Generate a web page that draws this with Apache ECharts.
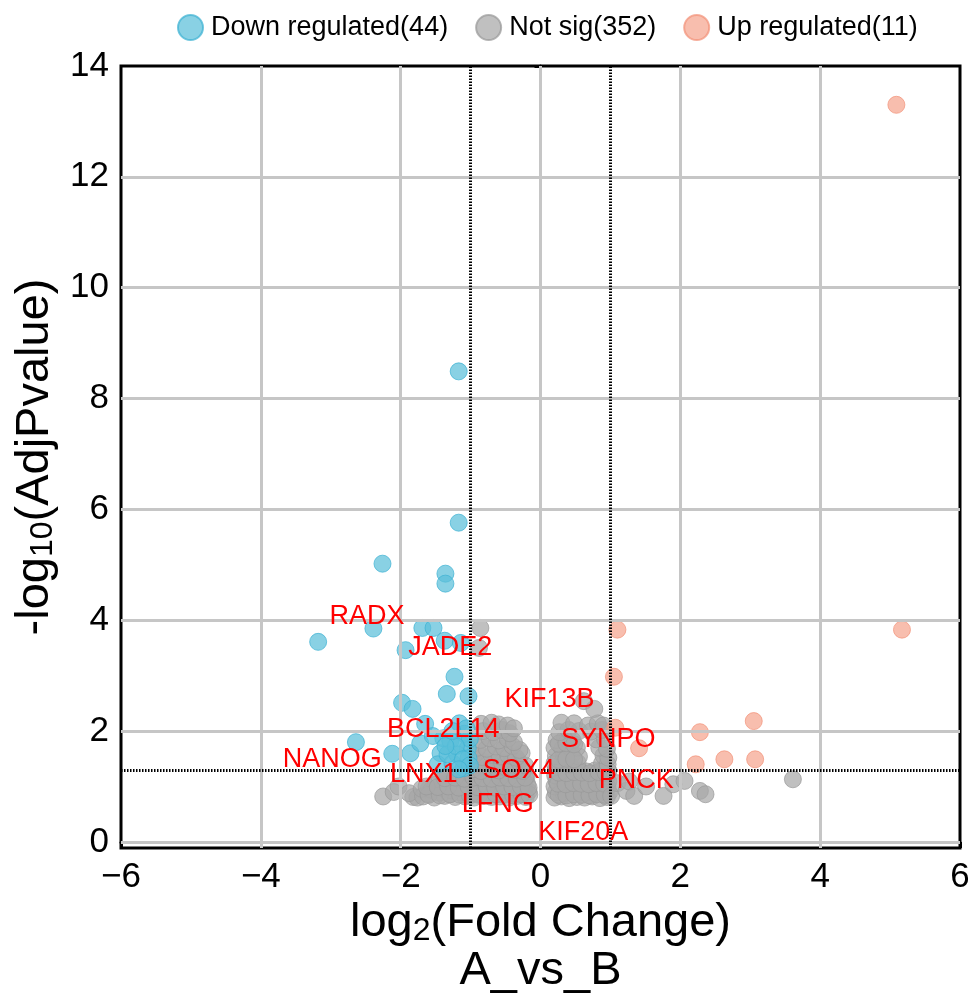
<!DOCTYPE html>
<html>
<head>
<meta charset="utf-8">
<title>Volcano plot</title>
<script src="https://cdn.jsdelivr.net/npm/echarts@6/dist/echarts.min.js"></script>
<style>
html, body { margin: 0; padding: 0; background: #fff; }
#chart { width: 968px; height: 997px; }
</style>
</head>
<body>
<div id="chart"></div>
<script>
// log2FC, -log10(adj p)
var downPoints = [
  [-1.17,8.49],[-1.17,5.76],[-2.26,5.02],[-1.36,4.84],[-1.36,4.66],[-2.39,3.85],[-3.18,3.61],
  [-1.69,3.86],[-1.53,3.86],[-1.93,3.46],[-1.37,3.63],[-1.14,3.59],[-1.23,2.98],[-1.34,2.67],
  [-1.03,2.63],[-1.98,2.51],[-1.83,2.40],[-2.64,1.80],[-2.12,1.59],[-1.86,1.60],[-1.72,1.78],
  [-1.65,2.13],[-1.43,1.60],[-1.47,1.40],[-1.26,1.42],[-1.16,2.14],[-1.39,1.87],[-1.54,1.91],
  [-1.29,1.82],[-1.14,1.76],[-1.04,1.69],[-1.19,1.58],[-1.03,1.51],[-1.10,1.33],[-1.33,1.58],
  [-1.09,1.95],[-1.01,1.86],[-1.21,1.73],[-1.11,1.49],[-1.01,1.38],[-1.17,1.31],[-1.36,1.73],
  [-1.06,2.05],[-1.26,2.00]
];
var notSigPoints = [
  [-0.86,3.86],[-0.88,3.50],
  [-2.25,0.82],[-2.10,0.90],[-2.03,1.00],[-1.82,0.81],[-1.76,0.80],[-1.60,0.95],[-1.88,0.88],
  [-1.68,0.82],[-1.52,0.80],[-1.37,0.83],[-1.22,0.81],[-1.08,0.82],[-0.95,0.80],[-0.81,0.83],[-0.70,0.81],[-0.58,0.82],[-0.45,0.80],[-0.33,0.83],[-0.21,0.81],
  [-1.61,0.87],[-1.45,0.89],[-1.30,0.86],[-1.16,0.90],[-1.01,0.88],[-0.88,0.87],[-0.75,0.90],[-0.63,0.86],[-0.50,0.89],[-0.38,0.88],[-0.26,0.87],[-0.17,0.91],
  [-1.70,0.96],[-1.56,0.94],[-1.40,0.97],[-1.27,0.93],[-1.12,0.96],[-0.97,0.95],[-0.84,0.98],[-0.72,0.94],[-0.60,0.96],[-0.47,0.93],[-0.35,0.97],[-0.23,0.95],
  [-1.50,1.03],[-1.35,1.05],[-1.20,1.02],[-1.06,1.04],[-0.92,1.01],[-0.79,1.06],[-0.66,1.03],[-0.54,1.00],[-0.42,1.05],[-0.30,1.02],[-0.19,1.04],
  [-1.44,1.12],[-1.29,1.10],[-1.14,1.13],[-1.00,1.10],[-0.86,1.12],[-0.73,1.09],[-0.60,1.13],[-0.48,1.10],[-0.36,1.12],[-0.25,1.11],
  [-1.33,1.19],[-1.18,1.21],[-1.05,1.18],[-0.93,1.22],[-0.80,1.19],[-0.67,1.21],[-0.55,1.18],[-0.42,1.22],[-0.31,1.20],[-0.20,1.17],
  [-1.60,0.85],[-1.44,0.84],[-1.29,0.86],[-1.15,0.85],[-1.01,0.84],[-0.88,0.85],[-0.76,0.84],[-0.64,0.86],[-0.52,0.85],[-0.39,0.84],[-0.27,0.86],[-0.16,0.85],
  [-1.63,1.00],[-1.47,0.99],[-1.32,1.00],[-1.17,0.98],[-1.03,1.00],[-0.90,0.99],[-0.77,1.00],[-0.65,0.98],[-0.52,1.00],[-0.40,0.99],[-0.28,1.00],[-0.17,0.98],
  [-1.37,1.15],[-1.22,1.16],[-1.09,1.14],[-0.96,1.16],[-0.83,1.15],[-0.70,1.14],[-0.58,1.16],[-0.46,1.15],[-0.34,1.14],[-0.22,1.16],
  [-0.97,1.31],[-0.85,1.28],[-0.72,1.32],[-0.60,1.29],[-0.48,1.33],[-0.36,1.30],[-0.25,1.28],
  [-0.93,1.42],[-0.80,1.44],[-0.68,1.40],[-0.55,1.43],[-0.43,1.41],[-0.31,1.45],[-0.22,1.38],
  [-0.95,1.56],[-0.83,1.53],[-0.70,1.57],[-0.58,1.54],[-0.46,1.56],[-0.35,1.52],[-0.27,1.60],
  [-0.90,1.70],[-0.77,1.68],[-0.64,1.72],[-0.52,1.69],[-0.40,1.73],[-0.30,1.66],
  [-0.86,1.84],[-0.73,1.87],[-0.60,1.83],[-0.47,1.86],[-0.38,1.80],
  [-0.82,2.00],[-0.68,1.98],[-0.55,2.02],[-0.44,1.96],
  [-0.85,2.13],[-0.70,2.15],[-0.60,2.12],[-0.47,2.10],[-0.38,2.05],
  [0.20,0.80],[0.30,0.82],[0.41,0.79],[0.52,0.81],[0.63,0.80],[0.74,0.82],[0.85,0.79],[0.95,0.81],
  [0.22,0.90],[0.33,0.88],[0.44,0.91],[0.55,0.89],[0.66,0.90],[0.77,0.88],[0.88,0.91],[0.98,0.89],
  [0.20,1.00],[0.31,0.98],[0.42,1.01],[0.53,0.99],[0.64,1.00],[0.75,0.98],[0.86,1.01],[0.96,0.99],
  [0.23,1.10],[0.34,1.08],[0.45,1.11],[0.56,1.09],[0.67,1.10],[0.78,1.08],[0.89,1.11],[0.97,1.09],
  [0.21,1.20],[0.32,1.18],[0.43,1.21],[0.54,1.19],[0.65,1.20],[0.76,1.18],[0.87,1.21],[0.95,1.19],
  [0.22,1.30],[0.33,1.28],[0.44,1.31],[0.55,1.29],[0.66,1.27],[0.78,1.29],[0.89,1.30],[0.97,1.28],
  [0.26,0.85],[0.37,0.84],[0.48,0.86],[0.59,0.85],[0.70,0.84],[0.81,0.86],[0.92,0.85],
  [0.25,1.05],[0.36,1.04],[0.47,1.06],[0.58,1.05],[0.69,1.04],[0.80,1.06],[0.91,1.05],
  [0.26,1.25],[0.37,1.24],[0.48,1.26],[0.59,1.25],[0.70,1.24],[0.83,1.26],[0.93,1.25],
  [0.20,1.42],[0.31,1.44],[0.42,1.40],[0.53,1.43],[0.88,1.42],[0.96,1.40],
  [0.22,1.55],[0.34,1.53],[0.45,1.57],[0.55,1.54],[0.90,1.56],[0.97,1.52],
  [0.20,1.70],[0.31,1.68],[0.42,1.72],[0.52,1.70],[0.84,1.70],[0.95,1.68],
  [0.23,1.84],[0.35,1.87],[0.46,1.83],[0.80,1.85],[0.92,1.86],
  [0.26,1.48],[0.37,1.50],[0.48,1.49],[0.26,1.77],[0.37,1.78],[0.48,1.76],
  [0.27,1.98],[0.40,2.02],[0.55,2.00],[0.72,1.99],[0.88,2.02],
  [0.30,2.15],[0.48,2.14],[0.68,2.10],[0.82,2.14],[0.90,2.10],
  [0.62,2.54],[0.77,2.40],
  [1.01,0.83],[1.10,1.06],[1.23,0.92],[1.27,1.09],[1.34,0.83],[1.51,1.00],[1.76,0.83],
  [1.90,1.04],[2.06,1.10],[2.28,0.92],[2.36,0.86],[3.61,1.13]
];
var upPoints = [
  [5.09,13.30],[5.17,3.83],[1.10,3.83],[1.05,2.98],[1.07,2.06],[1.41,1.69],
  [2.28,1.98],[3.05,2.18],[2.22,1.40],[2.63,1.49],[3.07,1.49]
];
var geneNames = ['RADX','JADE2','KIF13B','BCL2L14','SYNPO','NANOG','LNX1','SOX4','PNCK','LFNG','KIF20A'];
var geneLabelX = [-2.48,-1.29,0.13,-1.39,0.97,-2.98,-1.67,-0.31,1.37,-0.61,0.61];
var geneLabelY = [4.06,3.50,2.56,2.02,1.84,1.48,1.21,1.29,1.11,0.68,0.16];
var seriesNames = ['Down regulated(44)','Not sig(352)','Up regulated(11)'];
var xTicks = [-6,-4,-2,0,2,4,6];
var yTicks = [0,2,4,6,8,10,12,14];
var fcCut = 1;
var pCut = 1.301;

var font = 'Liberation Sans, Arial, Helvetica, sans-serif';
var myChart = echarts.init(document.getElementById('chart'));

var gridLines = [];
xTicks.slice(1, -1).forEach(function (v) { gridLines.push({ xAxis: v }); });
yTicks.slice(0, -1).forEach(function (v) { gridLines.push({ yAxis: v }); });

function minus(v) { return String(v).replace('-', '\u2212'); }

function pointSeries(name, data, color, border, z) {
  return {
    name: name,
    type: 'scatter',
    data: data,
    symbolSize: 17,
    z: z,
    itemStyle: { color: color, opacity: 0.72, borderColor: border, borderWidth: 1 },
    emphasis: { disabled: true }
  };
}

var titleRich = {
  t: { fontSize: 47, lineHeight: 48, color: '#000', fontFamily: font },
  s: { fontSize: 32, lineHeight: 22, verticalAlign: 'bottom', color: '#000', fontFamily: font }
};

var option = {
  animation: false,
  textStyle: { fontFamily: font },
  legend: {
    data: seriesNames,
    left: 172,
    top: 9,
    icon: 'circle',
    itemWidth: 25,
    itemHeight: 25,
    itemGap: 27,
    textStyle: { fontSize: 27, color: '#000', fontFamily: font, padding: [0, 0, 0, 3] }
  },
  grid: {
    left: 121, right: 8, top: 66, bottom: 149,
    show: true, borderColor: '#000', borderWidth: 3,
    outerBoundsMode: 'none'
  },
  xAxis: {
    type: 'value',
    min: -6, max: 6, interval: 2,
    splitLine: { show: false },
    axisLine: { lineStyle: { color: '#000', width: 3 } },
    axisTick: { length: 6, lineStyle: { color: '#000', width: 3 } },
    axisLabel: { fontSize: 35, color: '#000', margin: 12, formatter: minus, fontFamily: font },
    name: '{t|log}{s|2}{t|(Fold Change)}\n{t|A_vs_B}',
    nameLocation: 'middle',
    nameGap: 44,
    nameTextStyle: { rich: titleRich }
  },
  yAxis: {
    type: 'value',
    min: -0.11, max: 14,
    splitLine: { show: false },
    axisLine: { lineStyle: { color: '#000', width: 3 } },
    axisTick: { length: 6, customValues: yTicks, lineStyle: { color: '#000', width: 3 } },
    axisLabel: { fontSize: 35, color: '#000', margin: 12, customValues: yTicks, fontFamily: font },
    name: '{t|-log}{s|10}{t|(AdjPvalue)}',
    nameLocation: 'middle',
    nameGap: 58,
    nameTextStyle: { rich: titleRich }
  },
  series: [
    {
      type: 'scatter',
      data: [],
      z: 1,
      silent: true,
      markLine: {
        silent: true,
        symbol: ['none', 'none'],
        label: { show: false },
        lineStyle: { color: '#c6c6c6', width: 3, type: 'solid' },
        data: gridLines
      }
    },
    {
      type: 'scatter',
      data: [],
      z: 2,
      silent: true,
      markLine: {
        silent: true,
        symbol: ['none', 'none'],
        label: { show: false },
        lineStyle: { color: '#000', width: 3, type: [1.5, 1.5] },
        data: [{ xAxis: -fcCut }, { xAxis: fcCut }, { yAxis: pCut }]
      }
    },
    pointSeries(seriesNames[0], downPoints, '#5cbfd9', '#3db2d3', 4),
    pointSeries(seriesNames[1], notSigPoints, '#a8a8a8', '#9a9a9a', 3),
    pointSeries(seriesNames[2], upPoints, '#f5a58f', '#f29279', 4),
    {
      type: 'scatter',
      z: 6,
      silent: true,
      symbolSize: 1,
      itemStyle: { color: 'rgba(0,0,0,0)' },
      data: geneNames.map(function (g, i) { return { name: g, value: [geneLabelX[i], geneLabelY[i]] }; }),
      label: {
        show: true,
        position: 'inside',
        formatter: '{b}',
        fontSize: 27,
        color: '#ff0000',
        opacity: 1,
        fontFamily: font
      },
      labelLayout: { hideOverlap: false }
    }
  ]
};
myChart.setOption(option);
</script>
</body>
</html>
